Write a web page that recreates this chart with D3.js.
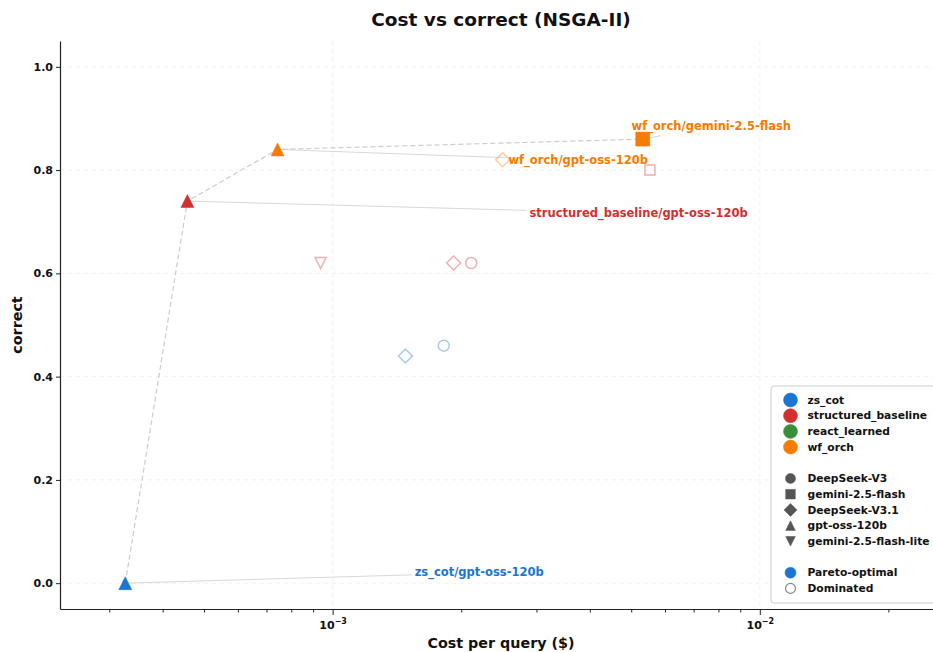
<!DOCTYPE html>
<html>
<head>
<meta charset="utf-8">
<script src="https://cdn.jsdelivr.net/npm/d3@7"></script>
<style>
  body { margin: 0; background: #fff; }
  svg { font-family: "DejaVu Sans", sans-serif; display: block; }
</style>
</head>
<body>
<div id="chart"></div>
<script>
// methods (colour) and models (shape)
const methods = ['zs_cot', 'structured_baseline', 'react_learned', 'wf_orch'];
const methodColors = ['#1976d2', '#d32f2f', '#388e3c', '#f57c00'];
const models = ['DeepSeek-V3', 'gemini-2.5-flash', 'DeepSeek-V3.1', 'gpt-oss-120b', 'gemini-2.5-flash-lite'];
const modelShapes = ['circle', 'square', 'diamond', 'triangle', 'triangleDown'];

// evaluated configurations
const pointMethod  = ['zs_cot', 'structured_baseline', 'wf_orch', 'wf_orch', 'wf_orch', 'structured_baseline', 'structured_baseline', 'structured_baseline', 'structured_baseline', 'zs_cot', 'zs_cot'];
const pointModel   = ['gpt-oss-120b', 'gpt-oss-120b', 'gpt-oss-120b', 'gemini-2.5-flash', 'DeepSeek-V3.1', 'gemini-2.5-flash', 'gemini-2.5-flash-lite', 'DeepSeek-V3.1', 'DeepSeek-V3', 'DeepSeek-V3.1', 'DeepSeek-V3'];
const pointCost    = [3.27e-4, 4.57e-4, 7.43e-4, 5.32e-3, 2.50e-3, 5.53e-3, 9.37e-4, 1.92e-3, 2.11e-3, 1.48e-3, 1.82e-3];
const pointCorrect = [0.0, 0.74, 0.84, 0.86, 0.82, 0.80, 0.62, 0.62, 0.62, 0.44, 0.46];
const pointPareto  = [true, true, true, true, false, false, false, false, false, false, false];

// annotation text positions (data coords)
const labelIndex   = [0, 1, 2, 3];
const labelCost    = [1.556e-3, 2.89e-3, 2.58e-3, 5.01e-3];
const labelCorrect = [0.021, 0.717, 0.82, 0.886];

const yTicks = [0.0, 0.2, 0.4, 0.6, 0.8, 1.0];
const xMajor = [1e-3, 1e-2];
const xMajorExp = ['\u22123', '\u22122'];
const xMinor = [3e-4, 4e-4, 5e-4, 6e-4, 7e-4, 8e-4, 9e-4, 2e-3, 3e-3, 4e-3, 5e-3, 6e-3, 7e-3, 8e-3, 9e-3, 2e-2];

const W = 933, H = 652;
const margin = { top: 41, left: 60, right: 942, bottom: 609 };
const midX = (margin.left + margin.right) / 2;

const svg = d3.select('#chart').append('svg')
  .attr('width', W).attr('height', H)
  .style('overflow', 'hidden');

const x = d3.scaleLog().domain([2.30e-4, 2.67e-2]).range([margin.left, margin.right]);
const y = d3.scaleLinear().domain([-0.05, 1.05]).range([margin.bottom, margin.top]);

// marker path, r = half size in px
const shapePath = (shape, r) => {
  switch (shape) {
    case 'circle': return `M${r},0A${r},${r} 0 1,1 ${-r},0A${r},${r} 0 1,1 ${r},0Z`;
    case 'square': return `M${-r},${-r}H${r}V${r}H${-r}Z`;
    case 'diamond': return `M0,${-r}L${r},0L0,${r}L${-r},0Z`;
    case 'triangle': return `M0,${-r}L${r},${r}L${-r},${r}Z`;
    case 'triangleDown': return `M0,${r}L${r},${-r}L${-r},${-r}Z`;
  }
};
const shapeOf = m => modelShapes[models.indexOf(m)];
const colorOf = m => methodColors[methods.indexOf(m)];

// grid
const grid = svg.append('g');
grid.selectAll('.gy').data(yTicks).join('line')
  .attr('x1', margin.left).attr('x2', margin.right)
  .attr('y1', d => y(d)).attr('y2', d => y(d))
  .attr('stroke', '#ececec').attr('stroke-width', 0.8).attr('stroke-dasharray', '4,4');
grid.selectAll('.gx').data(xMajor).join('line')
  .attr('x1', d => x(d)).attr('x2', d => x(d))
  .attr('y1', margin.top).attr('y2', margin.bottom)
  .attr('stroke', '#ececec').attr('stroke-width', 0.8).attr('stroke-dasharray', '4,4');

// pareto front
const pts = pointCost.map((c, i) => ({
  cost: c, correct: pointCorrect[i], method: pointMethod[i], model: pointModel[i], pareto: pointPareto[i]
}));
const front = pts.filter(d => d.pareto).sort((a, b) => a.cost - b.cost);
svg.append('path')
  .datum(front)
  .attr('d', d3.line().x(d => x(d.cost)).y(d => y(d.correct)))
  .attr('fill', 'none').attr('stroke', '#cccccc').attr('stroke-width', 1.2)
  .attr('stroke-dasharray', '5,3');

// annotations: text first (to measure), leader line behind
const leaders = svg.append('g');
const labels = svg.append('g');
labelIndex.forEach((pi, k) => {
  const p = pts[pi];
  const t = labels.append('text')
    .attr('x', x(labelCost[k])).attr('y', y(labelCorrect[k]))
    .attr('dy', '0.35em')
    .attr('fill', colorOf(p.method))
    .attr('font-size', 11.5).attr('font-weight', 'bold')
    .text(`${p.method}/${p.model}`);
  const b = t.node().getBBox();
  const cx = b.x + b.width / 2, cy = b.y + b.height / 2;
  const hw = b.width / 2 + 3, hh = b.height / 2 + 2;
  const px = x(p.cost), py = y(p.correct);
  const dx = px - cx, dy = py - cy;
  const s = Math.min(dx ? hw / Math.abs(dx) : Infinity, dy ? hh / Math.abs(dy) : Infinity);
  if (s < 1) {
    leaders.append('line')
      .attr('x1', px).attr('y1', py)
      .attr('x2', cx + dx * s).attr('y2', cy + dy * s)
      .attr('stroke', '#cdcdcd').attr('stroke-width', 0.8);
  }
});

// points
const markerR = { pareto: { circle: 7, square: 7, diamond: 8, triangle: 6.5, triangleDown: 6.5 },
                  dominated: { circle: 5.5, square: 5, diamond: 7, triangle: 5.5, triangleDown: 5.5 } };
svg.append('g').selectAll('path').data(pts).join('path')
  .attr('transform', d => `translate(${x(d.cost)},${y(d.correct)})`)
  .attr('d', d => shapePath(shapeOf(d.model), markerR[d.pareto ? 'pareto' : 'dominated'][shapeOf(d.model)]))
  .attr('fill', d => d.pareto ? colorOf(d.method) : 'none')
  .attr('stroke', d => colorOf(d.method))
  .attr('stroke-opacity', d => d.pareto ? 1 : 0.38)
  .attr('stroke-width', d => d.pareto ? 0.5 : 1.5);

// axes
const yAxis = svg.append('g')
  .attr('transform', `translate(${margin.left},0)`)
  .call(d3.axisLeft(y).tickValues(yTicks).tickFormat(d3.format('.1f')).tickSize(4).tickSizeOuter(0));
yAxis.select('.domain').attr('stroke', '#222').attr('stroke-width', 1.2);
yAxis.selectAll('text').attr('font-size', 11).attr('font-weight', 'bold').attr('fill', '#111')
  .attr('font-family', '"DejaVu Sans", sans-serif');

const xMinorAxis = svg.append('g')
  .attr('transform', `translate(0,${margin.bottom})`)
  .call(d3.axisBottom(x).tickValues(xMinor).tickFormat('').tickSize(3.5).tickSizeOuter(0));
xMinorAxis.select('.domain').attr('stroke', '#222').attr('stroke-width', 1.2);
const xAxis = svg.append('g')
  .attr('transform', `translate(0,${margin.bottom})`)
  .call(d3.axisBottom(x).tickValues(xMajor).tickFormat('').tickSize(6).tickSizeOuter(0));
xAxis.select('.domain').remove();
xAxis.selectAll('.tick').each(function (d, i) {
  const t = d3.select(this).append('text')
    .attr('y', 20).attr('fill', '#111').attr('text-anchor', 'middle')
    .attr('font-size', 11).attr('font-weight', 'bold')
    .attr('font-family', '"DejaVu Sans", sans-serif');
  t.append('tspan').text('10');
  t.append('tspan').attr('dy', -5).attr('font-size', 8).text(xMajorExp[i]);
});
svg.selectAll('.tick line').attr('stroke', '#222');

// titles
svg.append('text').attr('x', midX).attr('y', 26).attr('text-anchor', 'middle')
  .attr('font-size', 18.5).attr('font-weight', 'bold').attr('fill', '#111')
  .text('Cost vs correct (NSGA-II)');
svg.append('text').attr('x', midX).attr('y', 648).attr('text-anchor', 'middle')
  .attr('font-size', 14.3).attr('font-weight', 'bold').attr('fill', '#111')
  .text('Cost per query ($)');
svg.append('text').attr('transform', `translate(22,${(margin.top + margin.bottom) / 2}) rotate(-90)`)
  .attr('text-anchor', 'middle')
  .attr('font-size', 14.3).attr('font-weight', 'bold').attr('fill', '#111')
  .text('correct');

// legend
const legend = svg.append('g').attr('transform', 'translate(771,386)');
legend.append('rect').attr('width', 170).attr('height', 217).attr('rx', 3)
  .attr('fill', 'rgba(255,255,255,0.9)').attr('stroke', '#cccccc');
const rowY = d3.scaleLinear().domain([0, 1]).range([14, 29.7]);
const legendRows = [
  ...methods.map((m, i) => ({ row: i, label: m, shape: 'circle', r: 7, fill: methodColors[i], stroke: methodColors[i] })),
  ...models.map((m, i) => ({ row: i + 5, label: m, shape: modelShapes[i], r: modelShapes[i] === 'diamond' ? 6.5 : (modelShapes[i] === 'circle' ? 5 : 4.8), fill: '#555', stroke: '#555' })),
  { row: 11, label: 'Pareto-optimal', shape: 'circle', r: 5.5, fill: '#1976d2', stroke: '#1976d2' },
  { row: 12, label: 'Dominated', shape: 'circle', r: 5, fill: 'none', stroke: '#888' }
];
const lrow = legend.selectAll('.lrow').data(legendRows).join('g')
  .attr('transform', d => `translate(19.5,${rowY(d.row)})`);
lrow.append('path').attr('d', d => shapePath(d.shape, d.r))
  .attr('fill', d => d.fill).attr('stroke', d => d.stroke).attr('stroke-width', d => d.fill === 'none' ? 1.2 : 0.5);
lrow.append('text').attr('x', 17).attr('dy', '0.35em')
  .attr('font-size', 10.7).attr('font-weight', 'bold').attr('fill', '#111')
  .text(d => d.label);
</script>
</body>
</html>
